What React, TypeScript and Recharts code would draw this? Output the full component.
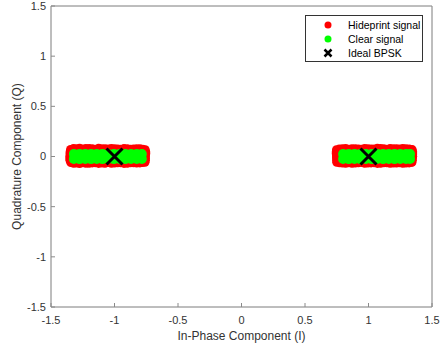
import { CartesianGrid, Legend, Scatter, ScatterChart, XAxis, YAxis } from "recharts";

const TICKS = [-1.5, -1, -0.5, 0, 0.5, 1, 1.5];
const SERIES = [
  { name: "Hideprint signal", color: "#ff0000" },
  { name: "Clear signal", color: "#00ff00" },
  { name: "Ideal BPSK", color: "#000000" },
];

// hideprint cloud, left symbol (-1) — outer rim of the cluster
const hideprintLeft: [number, number][] = [
  [-1.346, 0.07], [-1.323, 0.079], [-1.3, 0.077], [-1.275, 0.082], [-1.25, 0.074], [-1.225, 0.08],
  [-1.2, 0.079], [-1.175, 0.076], [-1.15, 0.073], [-1.125, 0.081], [-1.1, 0.077], [-1.075, 0.078],
  [-1.05, 0.075], [-1.025, 0.08], [-1.0, 0.078], [-0.975, 0.075], [-0.95, 0.072], [-0.925, 0.079],
  [-0.9, 0.077], [-0.875, 0.073], [-0.85, 0.074], [-0.825, 0.078], [-0.8, 0.076], [-0.778, 0.072],
  [-0.758, 0.068],
  [-1.344, -0.06], [-1.322, -0.068], [-1.3, -0.066], [-1.275, -0.07], [-1.25, -0.062], [-1.225, -0.068],
  [-1.2, -0.067], [-1.175, -0.064], [-1.15, -0.063], [-1.125, -0.069], [-1.1, -0.065], [-1.075, -0.067],
  [-1.05, -0.061], [-1.025, -0.068], [-1.0, -0.066], [-0.975, -0.062], [-0.95, -0.063], [-0.925, -0.069],
  [-0.9, -0.067], [-0.875, -0.063], [-0.85, -0.062], [-0.825, -0.066], [-0.8, -0.064], [-0.78, -0.061],
  [-0.76, -0.058],
  [-1.35, 0.045], [-1.35, 0.025], [-1.352, 0.0], [-1.352, -0.025], [-1.35, -0.04],
  [-0.754, 0.045], [-0.754, 0.028], [-0.756, 0.005], [-0.756, -0.02], [-0.757, -0.038],
];

// hideprint cloud, right symbol (+1)
const hideprintRight: [number, number][] = [
  [0.748, 0.068], [0.77, 0.074], [0.795, 0.076], [0.82, 0.08], [0.845, 0.073], [0.87, 0.078],
  [0.895, 0.078], [0.92, 0.075], [0.945, 0.072], [0.97, 0.08], [0.995, 0.077], [1.02, 0.074],
  [1.045, 0.074], [1.07, 0.081], [1.095, 0.079], [1.12, 0.076], [1.145, 0.073], [1.17, 0.079],
  [1.195, 0.076], [1.22, 0.078], [1.245, 0.074], [1.27, 0.08], [1.295, 0.077], [1.32, 0.075],
  [1.344, 0.069],
  [0.75, -0.058], [0.772, -0.063], [0.795, -0.065], [0.82, -0.068], [0.845, -0.062], [0.87, -0.067],
  [0.895, -0.066], [0.92, -0.063], [0.945, -0.061], [0.97, -0.068], [0.995, -0.066], [1.02, -0.064],
  [1.045, -0.063], [1.07, -0.069], [1.095, -0.067], [1.12, -0.063], [1.145, -0.062], [1.17, -0.068],
  [1.195, -0.065], [1.22, -0.066], [1.245, -0.063], [1.27, -0.068], [1.295, -0.066], [1.32, -0.064],
  [1.342, -0.059],
  [0.746, 0.045], [0.746, 0.027], [0.748, 0.005], [0.748, -0.014], [0.749, -0.038],
  [1.348, 0.045], [1.348, 0.024], [1.348, 0.002], [1.346, -0.016], [1.345, -0.038],
];

// clear (no hideprint) cloud
const clearLeft: [number, number][] = [
  [-1.32, 0.025], [-1.275, 0.026], [-1.23, 0.024], [-1.185, 0.026], [-1.14, 0.025], [-1.095, 0.026],
  [-1.05, 0.024], [-1.005, 0.026], [-0.96, 0.025], [-0.915, 0.026], [-0.87, 0.024], [-0.825, 0.025],
  [-0.785, 0.024],
  [-1.32, -0.025], [-1.275, -0.026], [-1.23, -0.024], [-1.185, -0.026], [-1.14, -0.025], [-1.095, -0.026],
  [-1.05, -0.024], [-1.005, -0.026], [-0.96, -0.025], [-0.915, -0.026], [-0.87, -0.024], [-0.825, -0.025],
  [-0.785, -0.024],
];

const clearRight: [number, number][] = [
  [0.8, 0.025], [0.845, 0.026], [0.89, 0.024], [0.935, 0.026], [0.98, 0.025], [1.025, 0.026],
  [1.07, 0.024], [1.115, 0.026], [1.16, 0.025], [1.205, 0.026], [1.25, 0.024], [1.295, 0.025],
  [1.327, 0.024],
  [0.8, -0.025], [0.845, -0.026], [0.89, -0.024], [0.935, -0.026], [0.98, -0.025], [1.025, -0.026],
  [1.07, -0.024], [1.115, -0.026], [1.16, -0.025], [1.205, -0.026], [1.25, -0.024], [1.295, -0.025],
  [1.327, -0.024],
];

const idealPoints: [number, number][] = [[-1, 0], [1, 0]];

const toRows = (pts: [number, number][]) => pts.map(([x, y]) => ({ x, y }));

const FONT = "'Liberation Sans', Arial, sans-serif";
const AXIS = "#8a8a8a";
const TEXT = "#333333";

const dot = (color: string, r: number) => (props: any) =>
  <circle cx={props.cx} cy={props.cy} r={r} fill={color} />;

const cross = (props: any) => {
  const { cx, cy } = props;
  const s = 8;
  return (
    <path
      d={`M${cx - s},${cy - s}L${cx + s},${cy + s}M${cx - s},${cy + s}L${cx + s},${cy - s}`}
      stroke="#000"
      strokeWidth={3}
      fill="none"
    />
  );
};

function LegendBox() {
  return (
    <div
      style={{
        border: "1px solid #333",
        background: "#fff",
        fontFamily: FONT,
        fontSize: 10.5,
        color: "#000",
        boxSizing: "border-box",
        width: 118,
        height: 47,
        padding: "2px 0",
      }}
    >
      {SERIES.map((s, i) => (
        <div key={s.name} style={{ display: "flex", alignItems: "center", height: 14 }}>
          <svg width={42} height={14}>
            {i < 2 ? (
              <circle cx={22} cy={7} r={3.5} fill={s.color} />
            ) : (
              <path d="M18.5,3.5L25.5,10.5M18.5,10.5L25.5,3.5" stroke="#000" strokeWidth={2.5} />
            )}
          </svg>
          <span>{s.name}</span>
        </div>
      ))}
    </div>
  );
}

export default function App() {
  const tick = { fill: TEXT, fontSize: 11, fontFamily: FONT };
  return (
    <div style={{ position: "absolute", left: 0, top: 0, background: "#fff" }}>
      <ScatterChart width={442} height={347} margin={{ top: 5, right: 9, bottom: 0, left: 0 }}>
        <CartesianGrid stroke="#e4e4e4" strokeWidth={1} />
        <XAxis
          xAxisId="b"
          type="number"
          dataKey="x"
          domain={[-1.5, 1.5]}
          ticks={TICKS}
          tick={tick}
          tickSize={-4}
          tickMargin={13}
          height={40}
          stroke={AXIS}
          label={{
            content: (p: any) => (
              <text
                x={p.viewBox.x + p.viewBox.width / 2}
                y={p.viewBox.y + 33}
                textAnchor="middle"
                fill={TEXT}
                fontSize={12}
                fontFamily={FONT}
              >
                In-Phase Component (I)
              </text>
            ),
          }}
        />
        <XAxis
          xAxisId="t"
          orientation="top"
          type="number"
          dataKey="x"
          domain={[-1.5, 1.5]}
          ticks={TICKS}
          tickFormatter={() => ""}
          tickSize={-4}
          height={1}
          stroke={AXIS}
        />
        <YAxis
          yAxisId="l"
          type="number"
          dataKey="y"
          domain={[-1.5, 1.5]}
          ticks={TICKS}
          tick={tick}
          tickSize={-4}
          tickMargin={9}
          width={51}
          stroke={AXIS}
          label={{
            content: (p: any) => {
              const cy = p.viewBox.y + p.viewBox.height / 2;
              return (
                <text
                  x={20.5}
                  y={cy}
                  transform={`rotate(-90 20.5 ${cy})`}
                  textAnchor="middle"
                  fill={TEXT}
                  fontSize={12}
                  fontFamily={FONT}
                >
                  Quadrature Component (Q)
                </text>
              );
            },
          }}
        />
        <YAxis
          yAxisId="r"
          orientation="right"
          type="number"
          dataKey="y"
          domain={[-1.5, 1.5]}
          ticks={TICKS}
          tickFormatter={() => ""}
          tickSize={-4}
          width={1}
          stroke={AXIS}
        />
        <Scatter
          name={SERIES[0].name}
          xAxisId="b"
          yAxisId="l"
          data={toRows([...hideprintLeft, ...hideprintRight])}
          fill={SERIES[0].color}
          shape={dot(SERIES[0].color, 4.5)}
          isAnimationActive={false}
        />
        <Scatter
          name={SERIES[1].name}
          xAxisId="b"
          yAxisId="l"
          data={toRows([...clearLeft, ...clearRight])}
          fill={SERIES[1].color}
          shape={dot(SERIES[1].color, 5)}
          isAnimationActive={false}
        />
        <Scatter
          name={SERIES[2].name}
          xAxisId="b"
          yAxisId="l"
          data={toRows(idealPoints)}
          fill={SERIES[2].color}
          shape={cross}
          isAnimationActive={false}
        />
        <Legend
          layout="horizontal"
          verticalAlign="middle"
          align="center"
          wrapperStyle={{ top: 15, left: 305, width: 118, height: 47 }}
          content={() => <LegendBox />}
        />
      </ScatterChart>
    </div>
  );
}
